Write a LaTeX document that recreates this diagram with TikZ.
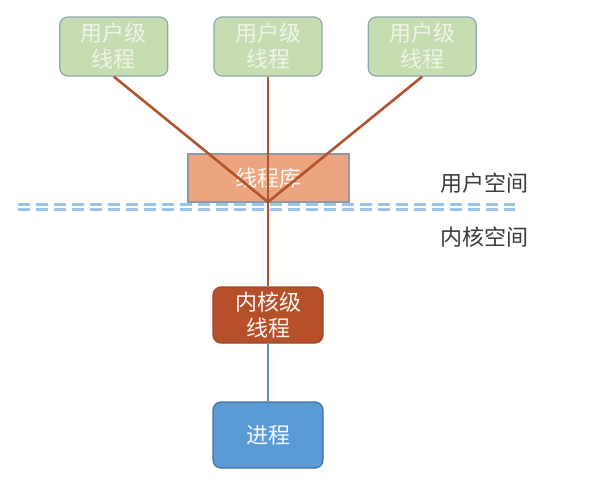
\documentclass[tikz,border=0pt]{standalone}
\usepackage{fontspec}
\setmainfont{Noto Sans CJK SC}
\usetikzlibrary{positioning}

\definecolor{userfill}{HTML}{C6DDB2}
\definecolor{userdraw}{HTML}{8FA6AE}
\definecolor{usertext}{HTML}{EEF4E6}
\definecolor{libfill}{HTML}{EDA57F}
\definecolor{libdraw}{HTML}{8E9AA3}
\definecolor{kernfill}{HTML}{B5502A}
\definecolor{kerndraw}{HTML}{9A4A2C}
\definecolor{procfill}{HTML}{5B9BD5}
\definecolor{procdraw}{HTML}{41719C}
\definecolor{brownline}{HTML}{B0552E}
\definecolor{blueline}{HTML}{5B8FC7}
\definecolor{dashblue}{HTML}{9DC3E6}
\definecolor{spacetext}{HTML}{3A3A3A}

\begin{document}
\begin{tikzpicture} [x=1pt, y=-1pt,
    every node/.style={font=\fontsize{22}{26}\selectfont},
    box node/.style={rectangle, rounded corners=8pt, draw, align=center,
      line width=1.2pt, inner sep=0pt},
    user node/.style={box node, fill=userfill, draw=userdraw, text=usertext,
      minimum width=108pt, minimum height=59pt},
    lib node/.style={box node, rounded corners=0pt, fill=libfill, draw=libdraw,
      text=white!92!libfill, minimum width=161pt, minimum height=48pt},
    kern node/.style={box node, fill=kernfill, draw=kerndraw, text=white!94!kernfill,
      minimum width=110pt, minimum height=56pt},
    proc node/.style={box node, fill=procfill, draw=procdraw, text=white!94!procfill,
      minimum width=110pt, minimum height=66pt},
    space label/.style={text=spacetext},
    thread line/.style={draw=brownline, line width=2.6pt},
    proc line/.style={draw=blueline, line width=2.2pt},
    border line/.style={draw=dashblue, line width=2.5pt, dash pattern=on 12pt off 6pt}]

  \useasboundingbox (0,0) rectangle (612,485);

  % user level threads
  \node [user node] (u2) at (268, 46.5) {用户级\\线程};
  \node [user node, left = 45pt of u2] (u1) {用户级\\线程};
  \node [user node, right = 45pt of u2] (u3) {用户级\\线程};

  \node [lib node] (lib) at (268.5, 178) {线程库};
  \coordinate (meet) at (268, 202);

  \node [kern node] (kern) at (268, 315) {内核级\\线程};
  \node [proc node] (proc) at (268, 435) {进程};

  \node [space label] (us) at (484, 183) {用户空间};
  \node [space label] (ks) at (484, 237) {内核空间};

  % user / kernel border
  \draw [border line] (18, 204.6) -- (515, 204.6);
  \draw [border line] (18, 209.4) -- (515, 209.4);

  \draw [thread line] (u1.south) -- (meet);
  \draw [thread line] (u3.south) -- (meet);
  \draw [thread line] (u2.south) -- (kern.north);

  \draw [proc line] (kern.south) -- (proc.north);

\end{tikzpicture}
\end{document}
